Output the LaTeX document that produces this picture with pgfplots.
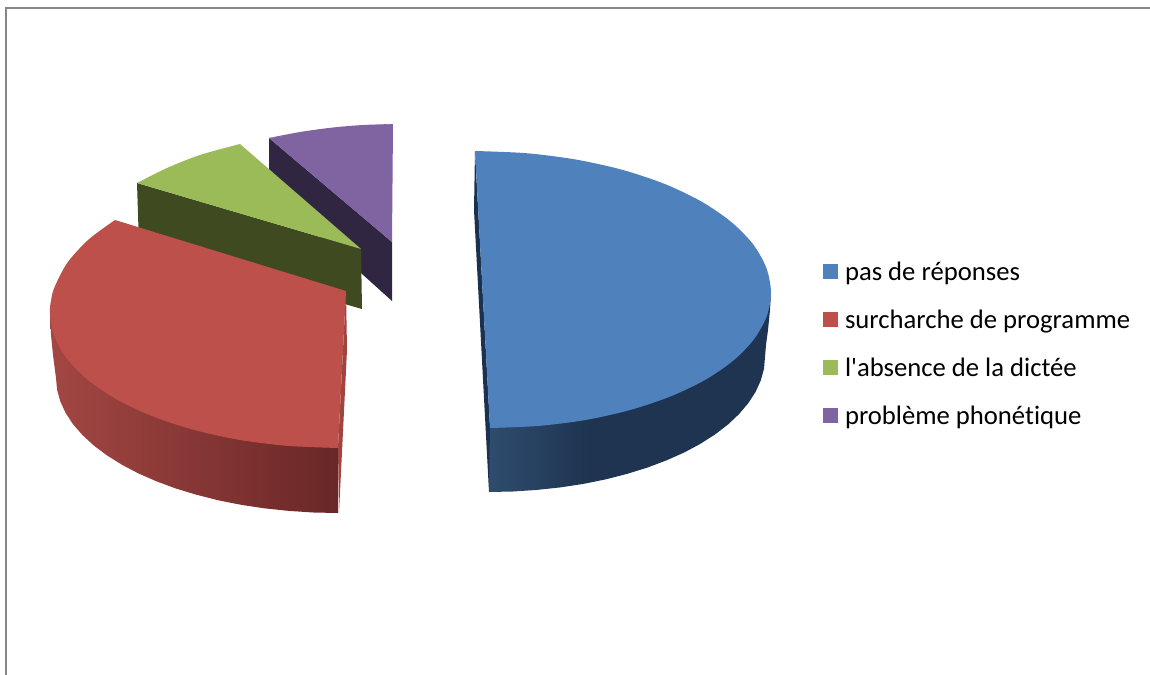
\documentclass[border=0pt]{standalone}
\usepackage{pgfplots}
\pgfplotsset{compat=1.18}
\usepackage{fontspec}
\setmainfont{Carlito}
\newfontfamily\lgfont[Ligatures=NoCommon]{Carlito}
\definecolor{cblue}{HTML}{4F81BD}
\definecolor{cred}{HTML}{BE504C}
\definecolor{cgreen}{HTML}{9BBB59}
\definecolor{cpurple}{HTML}{8063A1}
\definecolor{sblueL}{HTML}{2F4C6E}
\definecolor{sblueR}{HTML}{1E3450}
\definecolor{sredL}{HTML}{A34743}
\definecolor{sredR}{HTML}{692727}
\pgfdeclarehorizontalshading{bluecurve}{100bp}{color(0bp)=(sblueL); color(25bp)=(sblueL); color(43bp)=(sblueR); color(100bp)=(sblueR)}
\begin{document}
\begin{tikzpicture}
\begin{axis}[
  scale only axis, width=862.5pt, height=506.25pt,
  xmin=0, xmax=1150, ymin=0, ymax=675, y dir=reverse,
  axis lines=none, clip=false,
  reverse legend,
  legend style={at={(axis cs:823,260)}, anchor=north west, draw=none, fill=none,
    inner sep=0pt, outer sep=0pt, font=\lgfont\fontsize{20}{20}\selectfont,
    row sep=16pt, nodes={inner sep=0pt, outer sep=0pt, text height=15pt, text depth=5pt}},
  legend cell align=left,
  legend image code/.code={\fill[#1,draw=none] (0pt,-4.3pt) rectangle (11.25pt,6.9pt); \path (0pt,0pt) (16.5pt,0pt);},
]
% frame
\addplot[forget plot, color=gray!95, line width=1.4pt] coordinates {(6,675) (6,8) (1150,8)};
% purple side
\addplot[forget plot, draw=none, fill={rgb,255:red,49;green,38;blue,66}] coordinates {(269,138) (392,242) (392,301) (269,190) (269,138)};
% purple top
\addplot[forget plot, smooth, fill=cpurple, draw=none] coordinates {(393,124) (363,125) (333,127.5) (300,132) (269,138)};
\addplot[draw=none, fill=cpurple] coordinates {(393,124) (333,129) (269,138) (392,242) (393,124)};
\addlegendentry{problème phonétique}
% green side
\addplot[forget plot, draw=none, fill={rgb,255:red,63;green,74;blue,32}] coordinates {(137,183) (361,249) (362,309) (139,245) (137,183)};
% green top
\addplot[forget plot, smooth, fill=cgreen, draw=none] coordinates {(240,144) (200,155) (167,168) (137,183)};
\addplot[draw=none, fill=cgreen] coordinates {(240,144) (190,161) (137,183) (361,249) (240,144)};
\addlegendentry{l'absence de la dictée}
% red side
\addplot[forget plot, left color=sredL, right color=sredR, draw=none] coordinates {(50,313) (51,335) (53,355) (56,378) (57.1,389.8) (60.3,401.4) (65.6,412.9) (73,424.2) (82.4,435) (93.8,445.5) (107,455.4) (122,464.8) (138.6,473.5) (156.7,481.4) (176.2,488.6) (197,494.9) (218.8,500.4) (241.6,504.9) (265,508.4) (289,510.9) (313.4,512.5) (338,513) (338,440) (250,430) (100,370) (50,313)};
% red cut face
\addplot[forget plot, draw=none, fill={rgb,255:red,160;green,68;blue,64}] coordinates {(346,291) (347,350) (339,513) (338,448) (346,291)};
% red top
\addplot[forget plot, smooth, fill=cred, draw=none] coordinates {(115,220) (88.6,239.5) (67.4,262.7) (54.4,287.5) (51.1,300.2) (50,313) (54.4,336.4) (67.4,359.2) (88.6,380.5) (117.4,399.8) (152.9,416.4) (194,429.9) (239.5,439.9) (288,445.9) (338,448)};
\addplot[draw=none, fill=cred] coordinates {(115,220) (200,380) (338,448) (346,291) (115,220)};
\addlegendentry{surcharche de programme}
% blue side
\addplot[forget plot, shading=bluecurve, draw=none] coordinates {(771,293) (770,310) (768,330) (766,345) (765,357) (764,368.8) (760.8,380.4) (755.6,391.9) (748.4,403) (739.1,414) (728,424.5) (715.1,434.4) (700.4,443.8) (684.2,452.5) (666.4,460.4) (647.3,467.6) (627,473.9) (605.6,479.4) (583.4,483.9) (560.4,487.4) (536.9,489.9) (513,491.5) (489,492) (490,420) (640,380) (760,285) (771,293)};
% blue cut face
\addplot[forget plot, draw=none, fill={rgb,255:red,26;green,50;blue,80}] coordinates {(475,151) (490,427) (489,492) (474,210) (475,151)};
% blue top
\addplot[smooth, fill=cblue, draw=none] coordinates {(475,151) (526.4,153.2) (576.2,159.6) (623,170) (665.3,184.2) (701.7,201.7) (731.3,222) (753.2,244.4) (766.5,268.3) (771,293) (766.7,316.4) (754,339.2) (733.4,360.5) (705.3,379.8) (670.6,396.4) (630.5,409.9) (586.1,419.9) (538.8,425.9) (490,428)};
\addlegendentry{pas de réponses}
\end{axis}
\pgfresetboundingbox
\path[use as bounding box] (0,0) rectangle (862.5pt,506.25pt);
\end{tikzpicture}
\end{document}
